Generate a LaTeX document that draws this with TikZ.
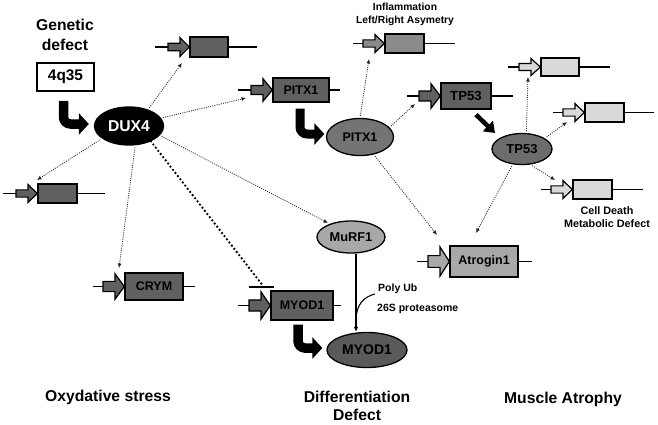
\documentclass[tikz,border=0pt]{standalone}
\usepackage{fontspec}
\setmainfont{Liberation Sans}
\usetikzlibrary{arrows.meta,calc,shapes.geometric}
\definecolor{gdark}{HTML}{606060}
\definecolor{cinfl}{HTML}{8A8A8A}
\definecolor{cmid}{HTML}{A8A8A8}
\definecolor{clight}{HTML}{D9D9D9}
\definecolor{cpitx}{HTML}{747474}
\definecolor{ctp}{HTML}{6C6C6C}
\definecolor{cmyod}{HTML}{5A5A5A}
\newcommand{\myfs}[2]{\fontsize{#1}{#2}\selectfont\bfseries}
\tikzset{
  geneline/.style={line width=1.3pt},
  promoter/.style={line width=1.2pt, line join=miter},
  genebox/.style={draw, rectangle, line width=1.3pt, inner sep=0pt, font=\myfs{12.5}{15}},
  prot/.style={ellipse, draw, line width=1.3pt, inner sep=0pt},
  dotarrow/.style={draw=black!85, line width=0.8pt, dash pattern=on 1pt off 1.2pt,
     -{Latex[length=4.5pt,width=4pt]}, shorten <=2pt},
  bent/.style={line width=#1, rounded corners=7pt, -{Triangle[length=10pt,width=21pt]}},
  inhibit/.style={line width=2.6pt, dash pattern=on 0pt off 4pt, line cap=round},
  solidarrow/.style={line width=1.1pt, -{Latex[length=5pt,width=4.5pt]}},
  lbl/.style={inner sep=0pt, align=center},
}
% name, cx, cy, w, h, colour, label, xleft, xright
\newcommand{\gene}[9]{%
  \pgfmathsetmacro\gbx{#2-#4/2}%
  \pgfmathsetmacro\gs{max(3.5,0.19*#5)}%
  \pgfmathsetmacro\gh{0.47*#5}%
  \draw[geneline] (#8,#3) -- (#9,#3);
  \node[genebox, fill=#6, minimum width=#4, minimum height=#5] (#1) at (#2,#3) {#7};
  \draw[promoter, fill=#6] (\gbx-22,#3-\gs) -- (\gbx-10,#3-\gs) -- (\gbx-10,#3-\gh)
     -- (#1.west) -- (\gbx-10,#3+\gh) -- (\gbx-10,#3+\gs) -- (\gbx-22,#3+\gs) -- cycle;
}
\begin{document}
\begin{tikzpicture}[x=1pt,y=-1pt]
\useasboundingbox (0,0) rectangle (658,424);
\fill[white] (0,0) rectangle (658,424);

% genes
\gene{g1}{209}{47}{38}{20}{gdark}{}{155}{257}
\gene{gL}{57.5}{193.5}{39}{19}{gdark}{}{3}{105}
\gene{gCRYM}{154}{286.5}{58}{27}{gdark}{CRYM}{93}{195}
\gene{gMYOD}{302}{305.5}{62}{29}{gdark}{MYOD1}{238}{341}
\gene{gAtro}{484}{261.5}{68}{31}{cmid}{Atrogin1}{417}{532}
\gene{gPITX}{301}{90}{56}{24}{gdark}{PITX1}{238}{340}
\gene{gInfl}{404.5}{43.5}{39}{19}{cinfl}{}{353}{455}
\gene{gTP}{466}{96}{50}{26}{gdark}{\myfs{13.2}{15}TP53}{407}{513}
\gene{gA}{560}{67}{38}{18}{clight}{}{508}{610}
\gene{gB}{604.5}{112.5}{39}{19}{clight}{}{553}{654}
\gene{gC}{592.5}{189.5}{39}{19}{clight}{}{541}{643}

% text and source
\node[lbl, font=\myfs{15.7}{20}] (gd) at (65,35) {Genetic\\defect};
\node[draw, line width=1.8pt, minimum width=57, minimum height=28, inner sep=0pt,
      font=\myfs{15.4}{18}] (q35) at (65.5,77) {4q35};

% proteins
\node[prot, fill=black, text=white, minimum width=69, minimum height=38,
      font=\myfs{15.7}{18}] (DUX4) at (129,126) {DUX4};
\node[prot, fill=cpitx, minimum width=67, minimum height=37,
      font=\myfs{12.5}{15}] (pPITX) at (360,137) {PITX1};
\node[prot, fill=ctp, minimum width=60, minimum height=31,
      font=\myfs{13}{15}] (pTP) at (522,149) {TP53};
\node[prot, fill=cmid, minimum width=68, minimum height=32,
      font=\myfs{12.8}{15}] (MuRF) at (351,237) {MuRF1};
\node[prot, fill=cmyod, minimum width=80, minimum height=35,
      font=\myfs{14}{16}] (pMYOD) at (367,350) {MYOD1};

% dotted arrow targets
\coordinate (t1) at (182,63);
\coordinate (t2) at (246,98);
\coordinate (t3) at (37,180);
\coordinate (t4) at (119,268);
\coordinate (t5) at (328,223);
\coordinate (t6) at (369,59);
\coordinate (t7) at (415,104);
\coordinate (t8) at (437,235);
\coordinate (t9) at (476,233);
\coordinate (t10) at (528,77);
\coordinate (t11) at (567,122);
\coordinate (t12) at (555,180);

\draw[dotarrow] (DUX4.41) -- (t1);
\draw[dotarrow] (DUX4.14) -- (t2);
\draw[dotarrow] (DUX4.205) -- (t3);
\draw[dotarrow] (DUX4.-72) -- (t4);
\draw[dotarrow] (DUX4.-17) -- (t5);
\draw[dotarrow] (pPITX.90) -- (t6);
\draw[dotarrow] (pPITX.18) -- (t7);
\draw[dotarrow] (pPITX.-52) -- (t8);
\draw[dotarrow] (pTP.239) -- (t9);
\draw[dotarrow] (pTP.75) -- (t10);
\draw[dotarrow] (pTP.25) -- (t11);
\draw[dotarrow] (pTP.-62) -- (t12);

% inhibition DUX4 -| MYOD1 gene
\coordinate (ibar) at (262,287);
\draw[inhibit] (DUX4.-35) -- ([yshift=2.5pt]ibar);
\draw[line width=1.3pt] ([xshift=-13pt]ibar) -- ([xshift=12pt]ibar);

% bent black arrows
\draw[bent=9.5pt] ([xshift=-2pt,yshift=-9pt]q35.south) |- ([xshift=-5pt,yshift=2pt]DUX4.west);
\draw[bent=9pt] ([xshift=-1pt,yshift=-6pt]gPITX.south) |- ([xshift=-1.5pt,yshift=3pt]pPITX.west);
\draw[bent=9.5pt] ([xshift=-4pt,yshift=-4pt]gMYOD.south) |- ([xshift=-4pt,yshift=2pt]pMYOD.west);
\draw[line width=4.5pt, -{Triangle[length=10pt,width=14pt]}]
   ([xshift=10pt,yshift=-5pt]gTP.south) -- ([xshift=-27pt,yshift=16pt]pTP.center);

% MuRF1 -> MYOD1 ubiquitination
\coordinate (ms) at ([xshift=5pt]MuRF.south);
\draw[solidarrow] (ms) -- (ms |- pMYOD.north);
\coordinate (pu) at (375,294);
\coordinate (pj) at (356,318);
\draw[line width=1.1pt] (pu) .. controls (363,297) and (357,305) .. (pj);
\node[lbl, anchor=west, font=\myfs{10.5}{13}] (pub) at (378,289) {Poly Ub};
\node[lbl, anchor=west, font=\myfs{10.5}{13}] (p26) at (377,309) {26S proteasome};

% side labels
\node[lbl, font=\myfs{10.3}{13}] (infl) at (405,14.5) {Inflammation\\Left/Right Asymetry};
\node[lbl, font=\myfs{10.8}{13}] (cd) at (607,217.5) {Cell Death\\Metabolic Defect};

% bottom labels
\node[lbl, font=\myfs{15.7}{18}] (ox) at (108,397) {Oxydative stress};
\node[lbl, font=\myfs{15.7}{18}] (diff) at (357,406) {Differentiation\\Defect};
\node[lbl, font=\myfs{15.7}{18}] (ma) at (563,399) {Muscle Atrophy};
\end{tikzpicture}
\end{document}
